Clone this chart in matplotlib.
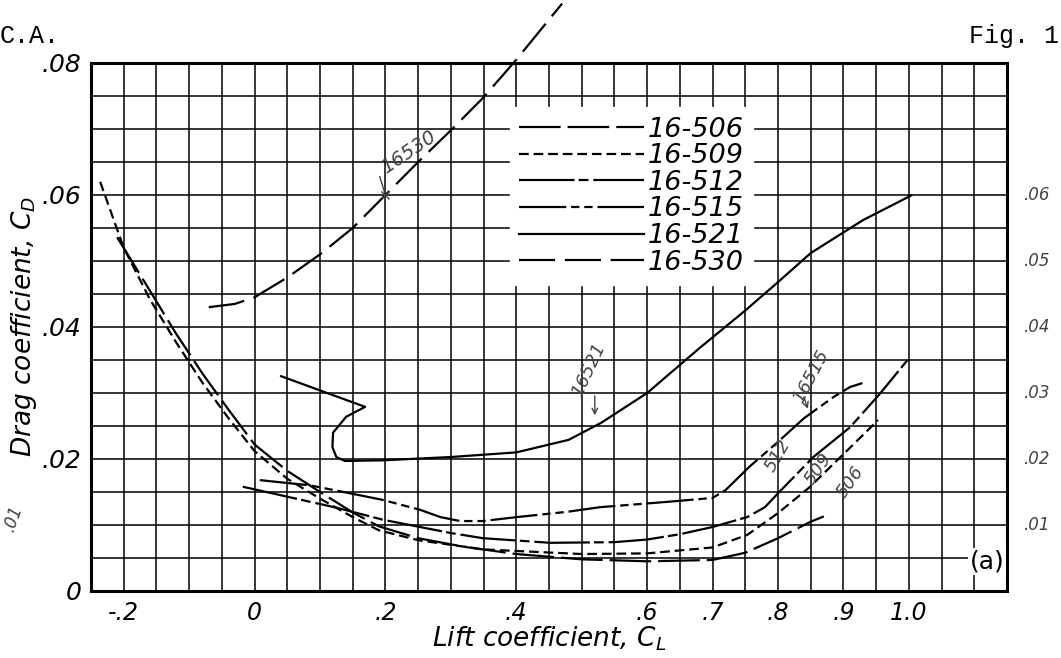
import matplotlib
matplotlib.use("Agg")
import matplotlib.pyplot as plt
from matplotlib.lines import Line2D

plt.rcParams["font.family"] = ["DejaVu Sans"]
plt.rcParams["lines.scale_dashes"] = False

# curve data (lift coefficient CL, drag coefficient CD)
CL_506 = [-0.21, -0.16, -0.12, -0.08, -0.04, 0.0, 0.05, 0.1, 0.15, 0.19, 0.25, 0.32, 0.4, 0.5, 0.6, 0.7, 0.75, 0.8, 0.85, 0.87]
CD_506 = [0.0536, 0.0455, 0.0390, 0.0330, 0.0275, 0.0222, 0.0182, 0.0150, 0.0119, 0.0098, 0.0080, 0.0067, 0.0056, 0.0048, 0.0045, 0.0047, 0.0058, 0.0080, 0.0105, 0.0113]

CL_509 = [-0.236, -0.2, -0.16, -0.12, -0.08, -0.04, 0.0, 0.05, 0.1, 0.15, 0.19, 0.25, 0.35, 0.5, 0.6, 0.7, 0.753, 0.8, 0.848, 0.91, 0.953]
CD_509 = [0.062, 0.052, 0.0442, 0.0377, 0.0316, 0.0262, 0.0212, 0.0170, 0.0140, 0.0112, 0.0092, 0.0077, 0.0063, 0.0056, 0.0057, 0.0066, 0.0085, 0.0118, 0.0157, 0.0217, 0.0259]

CL_512 = [-0.018, 0.126, 0.196, 0.299, 0.349, 0.452, 0.55, 0.6, 0.65, 0.70, 0.753, 0.78, 0.80, 0.854, 0.91, 0.955, 0.998]
CD_512 = [0.0158, 0.0126, 0.0108, 0.0088, 0.0080, 0.0073, 0.0074, 0.0078, 0.0086, 0.0097, 0.0112, 0.0127, 0.0148, 0.0203, 0.0248, 0.0298, 0.0350]

CL_515 = [0.008, 0.085, 0.131, 0.196, 0.253, 0.284, 0.314, 0.349, 0.401, 0.478, 0.528, 0.63, 0.70, 0.72, 0.756, 0.80, 0.84, 0.885, 0.91, 0.929]
CD_515 = [0.0168, 0.0160, 0.0151, 0.0138, 0.0123, 0.0112, 0.0106, 0.0106, 0.0112, 0.0120, 0.0127, 0.0135, 0.0141, 0.0153, 0.0188, 0.0226, 0.0262, 0.0294, 0.0309, 0.0315]

CL_521 = [0.039, 0.169, 0.14, 0.12, 0.119, 0.125, 0.138, 0.196, 0.3, 0.4, 0.48, 0.53, 0.6, 0.68, 0.75, 0.8, 0.85, 0.93, 1.005]
CD_521 = [0.0326, 0.0279, 0.0264, 0.024, 0.0218, 0.0203, 0.0197, 0.0198, 0.0203, 0.021, 0.0229, 0.0255, 0.030, 0.0368, 0.0425, 0.0468, 0.0512, 0.0562, 0.060]

CL_530 = [-0.07, -0.03, 0.0, 0.05, 0.1, 0.15, 0.2, 0.25, 0.3, 0.35, 0.4, 0.47]
CD_530 = [0.0430, 0.0435, 0.0445, 0.0475, 0.0510, 0.0550, 0.0600, 0.0650, 0.0698, 0.0748, 0.0805, 0.0890]

LABELS = ["16-506", "16-509", "16-512", "16-515", "16-521", "16-530"]
X_TICKS = [-0.2, 0.0, 0.2, 0.4, 0.6, 0.7, 0.8, 0.9, 1.0]
X_TICK_LABELS = ["-.2", "0", ".2", ".4", ".6", ".7", ".8", ".9", "1.0"]
Y_TICKS = [0.0, 0.02, 0.04, 0.06, 0.08]
Y_TICK_LABELS = ["0", ".02", ".04", ".06", ".08"]
RIGHT_MARKS = [0.06, 0.05, 0.04, 0.03, 0.02, 0.01]
RIGHT_LABELS = [".06", ".05", ".04", ".03", ".02", ".01"]

DASHES = {
    "16-506": (0, (30, 5)),
    "16-509": (0, (7, 3.5)),
    "16-512": (0, (40, 3, 7, 3.5)),
    "16-515": (0, (34, 3.5, 6, 3.5, 6, 3.5)),
    "16-521": "-",
    "16-530": (0, (26, 7)),
}

fig = plt.figure(figsize=(10.61, 6.58), dpi=100)
ax = fig.add_axes([91 / 1061, 67 / 658, 916 / 1061, 528 / 658])
ax.set_xlim(-0.25, 1.15)
ax.set_ylim(0, 0.08)

# graph-paper grid
for i in range(29):
    ax.axvline(-0.25 + 0.05 * i, color="black", lw=1.1, zorder=1)
for j in range(17):
    ax.axhline(0.005 * j, color="black", lw=1.1, zorder=1)
for s in ax.spines.values():
    s.set_linewidth(2.2)

ax.set_xticks(X_TICKS)
ax.set_xticklabels(X_TICK_LABELS, style="italic", fontsize=17)
ax.set_yticks(Y_TICKS)
ax.set_yticklabels(Y_TICK_LABELS, style="italic", fontsize=18)
ax.tick_params(length=0, pad=7)

curves = [(CL_506, CD_506), (CL_509, CD_509), (CL_512, CD_512),
          (CL_515, CD_515), (CL_521, CD_521), (CL_530, CD_530)]
handles = []
for (cl, cd), lab in zip(curves, LABELS):
    clip = lab != "16-530"
    ax.plot(cl, cd, color="black", lw=1.6, linestyle=DASHES[lab], zorder=3,
            clip_on=clip, solid_capstyle="butt", dash_capstyle="butt")
    handles.append(Line2D([], [], color="black", lw=1.6, linestyle=DASHES[lab]))

leg = ax.legend(handles, LABELS, loc="upper left", bbox_to_anchor=(0.457, 0.916),
                borderaxespad=0, fontsize=19.5, handlelength=4.6, handletextpad=0.15,
                labelspacing=0.02, borderpad=0.35, framealpha=1,
                fancybox=False, edgecolor="white", facecolor="white")
for t in leg.get_texts():
    t.set_style("italic")
leg.set_zorder(5)

ax.set_xlabel("Lift coefficient, $C_L$", style="italic", fontsize=19, labelpad=0)
ax.set_ylabel("Drag coefficient, $C_D$", style="italic", fontsize=19, labelpad=2)

# hand-written notes on the sheet
hand = dict(color="#444444", style="italic", fontsize=12)
for v, t in zip(RIGHT_MARKS, RIGHT_LABELS):
    ax.text(1.175, v, t, va="center", ha="left", transform=ax.transData, clip_on=False, **hand)
ax.text(-0.37, 0.011, ".01", rotation=70, va="center", ha="center", clip_on=False, **hand)
ax.text(0.235, 0.0665, "16530", rotation=34, ha="center", va="center", fontsize=14,
        color="#444444", style="italic")
ax.annotate("", xy=(0.2, 0.0600), xytext=(0.19, 0.0632),
            arrowprops=dict(arrowstyle="-", color="#444444", lw=1))
ax.plot([0.2], [0.0600], marker="x", color="#444444", ms=6, zorder=4)
ax.text(0.51, 0.0335, "16521", rotation=65, ha="center", va="center", fontsize=13,
        color="#444444", style="italic")
ax.annotate("", xy=(0.52, 0.0262), xytext=(0.52, 0.0300),
            arrowprops=dict(arrowstyle="->", color="#444444", lw=1))
ax.text(0.85, 0.0325, "16515", rotation=62, ha="center", va="center", fontsize=13,
        color="#444444", style="italic")
ax.annotate("", xy=(0.847, 0.0272), xytext=(0.838, 0.0298),
            arrowprops=dict(arrowstyle="->", color="#444444", lw=1))
ax.text(0.8, 0.0205, "512", rotation=60, ha="center", va="center", fontsize=13,
        color="#444444", style="italic")
ax.text(0.862, 0.0185, "509", rotation=55, ha="center", va="center", fontsize=13,
        color="#444444", style="italic")
ax.text(0.91, 0.0165, "506", rotation=55, ha="center", va="center", fontsize=13,
        color="#444444", style="italic")

ax.text(1.12, 0.0044, "(a)", fontsize=18, ha="center", va="center",
        bbox=dict(facecolor="white", edgecolor="none", pad=1), zorder=6)

fig.text(0.0, 0.945, "C.A.", family="Liberation Mono", fontsize=18, ha="left", va="center")
fig.text(0.998, 0.945, "Fig. 1", family="Liberation Mono", fontsize=18, ha="right", va="center")

fig.savefig("out.png", dpi=100)
